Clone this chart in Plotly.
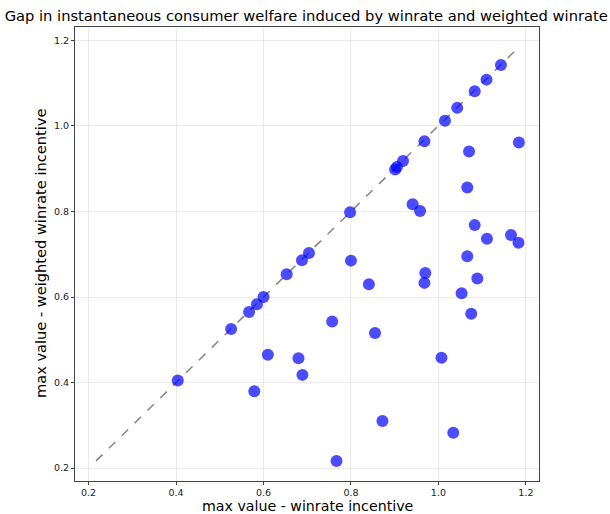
import plotly.graph_objects as go

winrate_x = [1.143, 1.110, 1.083, 1.043, 1.015, 0.968, 0.919, 0.905, 0.901, 1.184,
             1.070, 1.066, 0.941, 0.958, 0.798,
             1.083, 1.111, 1.166, 1.183, 1.066, 0.800, 0.704, 0.688, 0.653, 0.970,
             0.968, 0.841, 1.089, 1.053, 0.600, 0.585, 0.567, 1.075, 0.526, 0.757, 0.855,
             0.610, 0.680, 0.689, 1.007, 0.404, 0.579, 0.872, 1.034, 0.767]
weighted_y = [1.142, 1.108, 1.081, 1.042, 1.012, 0.964, 0.918, 0.904, 0.898, 0.961,
              0.940, 0.856, 0.817, 0.801, 0.798,
              0.768, 0.736, 0.745, 0.727, 0.695, 0.685, 0.703, 0.686, 0.653, 0.656,
              0.633, 0.630, 0.643, 0.609, 0.600, 0.583, 0.565, 0.561, 0.525, 0.543, 0.516,
              0.465, 0.457, 0.418, 0.458, 0.405, 0.380, 0.310, 0.283, 0.217]

lo = min(min(winrate_x), min(weighted_y))
hi = max(max(winrate_x), max(weighted_y))
diag = [lo, hi]

fig = go.Figure()
fig.add_trace(go.Scatter(x=diag, y=diag, mode="lines",
                         line=dict(color="rgba(80,80,80,0.7)", dash="dash", width=1.5),
                         hoverinfo="skip", showlegend=False))
fig.add_trace(go.Scatter(x=winrate_x, y=weighted_y, mode="markers",
                         marker=dict(color="rgba(0,0,255,0.7)", size=12, line=dict(width=0)),
                         showlegend=False))

axis_common = dict(showgrid=True, gridcolor="rgba(0,0,0,0.08)", gridwidth=1,
                   zeroline=False, showline=True, linecolor="#444", linewidth=1,
                   mirror=True, ticks="outside", ticklen=3, tickcolor="#444",
                   tickformat=".1f", dtick=0.2, tickfont=dict(size=9.5, color="#222"),
                   automargin=False)

fig.update_layout(
    width=610, height=514,
    margin=dict(l=75, r=71, t=27, b=33),
    paper_bgcolor="white", plot_bgcolor="white",
    font=dict(family="DejaVu Sans", color="black"),
    title=dict(text="Gap in instantaneous consumer welfare induced by winrate and weighted winrate",
               x=0.502, xanchor="center", y=1 - 16 / 514, yanchor="middle", yref="container",
               font=dict(size=14.7, color="black")),
    xaxis=dict(range=[0.169, 1.230], tick0=0.2, **axis_common),
    yaxis=dict(range=[0.170, 1.231], tick0=0.2, **axis_common),
    annotations=[
        dict(text="max value - winrate incentive", xref="paper", yref="paper",
             x=0.5, y=0, xanchor="center", yanchor="middle", yshift=-25, borderpad=0,
             showarrow=False, font=dict(size=14.2, color="black")),
        dict(text="max value - weighted winrate incentive", xref="paper", yref="paper",
             x=0, y=0.5, xanchor="center", yanchor="middle", xshift=-35, textangle=-90,
             showarrow=False, font=dict(size=14.6, color="black")),
    ],
)

fig.write_html("out.html", config={"displayModeBar": False},
               post_script="document.body.style.margin='0';document.body.style.overflow='hidden';")
